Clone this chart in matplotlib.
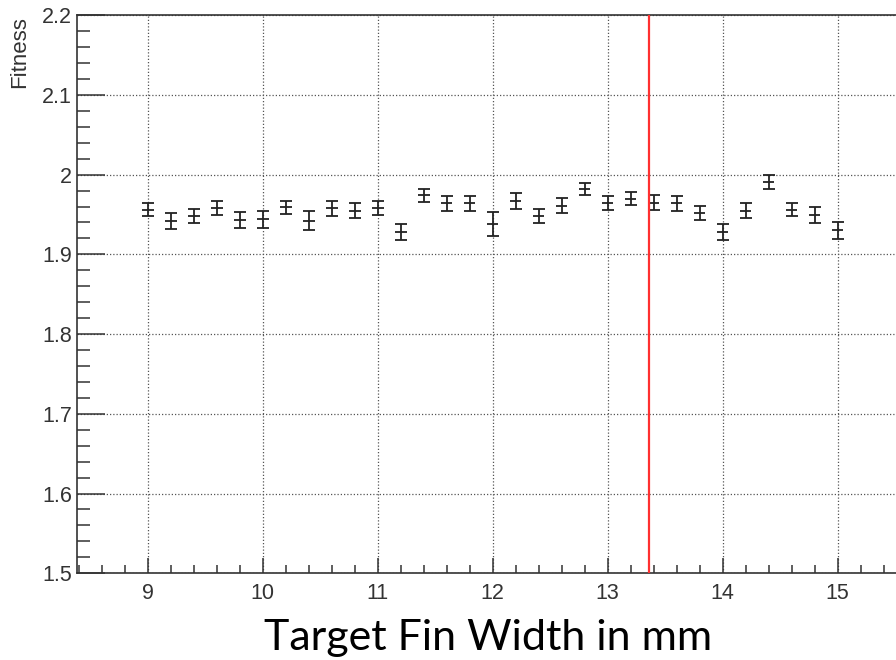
import matplotlib
matplotlib.use("Agg")
import matplotlib.pyplot as plt
from matplotlib.ticker import MultipleLocator

# fin width scan
fin_width = [9.0, 9.2, 9.4, 9.6, 9.8, 10.0, 10.2, 10.4, 10.6, 10.8,
             11.0, 11.2, 11.4, 11.6, 11.8, 12.0, 12.2, 12.4, 12.6, 12.8,
             13.0, 13.2, 13.4, 13.6, 13.8, 14.0, 14.2, 14.4, 14.6, 14.8, 15.0]
fitness = [1.956, 1.942, 1.948, 1.958, 1.943, 1.944, 1.959, 1.942, 1.958, 1.955,
           1.958, 1.928, 1.974, 1.964, 1.964, 1.938, 1.967, 1.948, 1.961, 1.982,
           1.965, 1.970, 1.965, 1.964, 1.952, 1.928, 1.955, 1.991, 1.956, 1.949, 1.930]
fitness_err = [0.0084, 0.0098, 0.0092, 0.0084, 0.0096, 0.0104, 0.0084, 0.0120, 0.0094, 0.0094,
               0.0092, 0.0104, 0.0081, 0.0094, 0.0094, 0.0150, 0.0104, 0.0084, 0.0094, 0.0073,
               0.0088, 0.0080, 0.0090, 0.0096, 0.0088, 0.0104, 0.0090, 0.0088, 0.0084, 0.0098, 0.0102]
chosen_width = 13.363

fig = plt.figure(figsize=(8.96, 6.6), dpi=100)
# right edge of the frame runs past the picture, like the cropped screenshot
ax = fig.add_axes([0.0863, 0.1314, 0.9256, 0.977 - 0.1314])

# vertical bars with caps, short horizontal bar without caps (ROOT style)
ax.errorbar(fin_width, fitness, yerr=fitness_err, fmt="none",
            ecolor="#222222", elinewidth=1.3, capsize=4, capthick=1.3, zorder=3)
ax.errorbar(fin_width, fitness, xerr=0.05, fmt="none",
            ecolor="#222222", elinewidth=1.3, capsize=0, zorder=3)
ax.axvline(chosen_width, color="#ff3030", lw=1.6, zorder=4)

ax.set_xlim(8.387, 15.6)
ax.set_ylim(1.5, 2.2)
ax.xaxis.set_major_locator(MultipleLocator(1))
ax.xaxis.set_minor_locator(MultipleLocator(0.2))
ax.yaxis.set_major_locator(MultipleLocator(0.1))
ax.yaxis.set_minor_locator(MultipleLocator(0.02))
ax.set_yticks([1.5, 1.6, 1.7, 1.8, 1.9, 2.0, 2.1, 2.2])
ax.set_yticklabels(["1.5", "1.6", "1.7", "1.8", "1.9", "2", "2.1", "2.2"])

ax.grid(True, which="major", color="#555555", linestyle=(0, (1, 1.6)), lw=0.9)
ax.set_axisbelow(True)

for side in ["left", "top", "bottom"]:
    ax.spines[side].set_color("#333333")
    ax.spines[side].set_linewidth(1.2)
ax.spines["right"].set_visible(False)

ax.tick_params(axis="y", which="major", direction="in", length=20, width=1.1,
               color="#333333", labelcolor="#333333", labelsize=15.5, pad=4,
               labelfontfamily="Liberation Sans")
ax.tick_params(axis="y", which="minor", direction="in", length=9.5, width=1.1, color="#333333")
ax.tick_params(axis="x", which="major", direction="in", length=11, width=1.1,
               color="#333333", labelcolor="#333333", labelsize=15.5, pad=7,
               labelfontfamily="Liberation Sans")
ax.tick_params(axis="x", which="minor", direction="in", length=5.5, width=1.1, color="#333333")

fig.text(20 / 896, 1 - 16 / 660, "Fitness", rotation=90, ha="center", va="top",
         fontsize=16, family="Liberation Sans", color="#333333")
fig.text(488 / 896, 1 - 650 / 660, "Target Fin Width in mm", ha="center", va="baseline",
         fontsize=31, family="Lato", color="black")

fig.savefig("out.png", dpi=100)
